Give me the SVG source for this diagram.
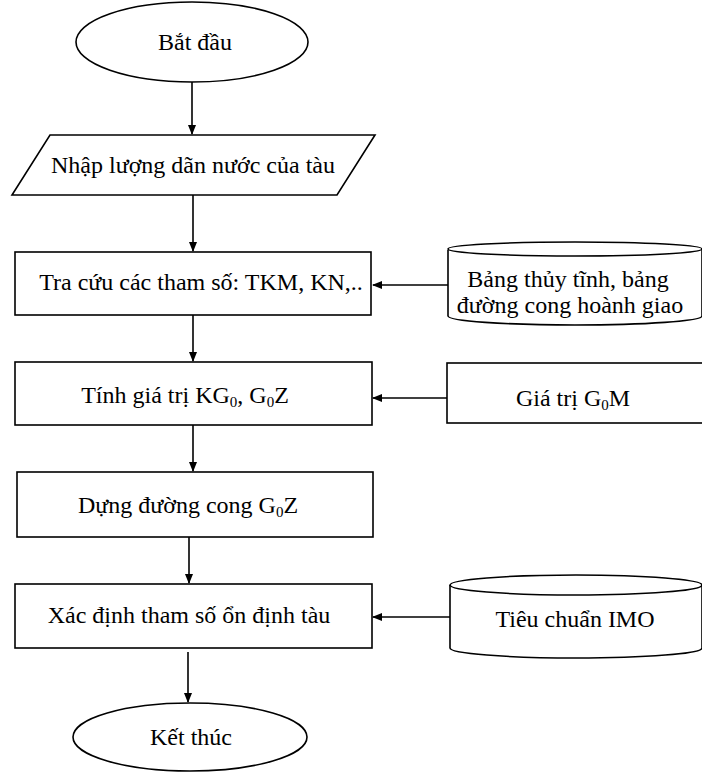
<svg xmlns="http://www.w3.org/2000/svg" width="702" height="773" viewBox="0 0 702 773">
<style>
.s{fill:#fff;stroke:#000;stroke-width:1.6}
.t{font-family:"Liberation Serif","Times New Roman",serif;font-size:24px;fill:#000;text-anchor:middle}
.sub{font-size:15px}
.c{fill:none;stroke:#000;stroke-width:1.6}
</style>
<defs>
<marker id="ah" markerWidth="10" markerHeight="10" refX="9" refY="5" orient="auto" markerUnits="userSpaceOnUse">
<path d="M0,1 L10,5 L0,9 Z" fill="#000"/>
</marker>
</defs>
<rect width="702" height="773" fill="#fff"/>
<g id="connectors">
<line class="c" x1="192" y1="82" x2="192" y2="134" marker-end="url(#ah)"/>
<line class="c" x1="193" y1="195" x2="193" y2="251" marker-end="url(#ah)"/>
<line class="c" x1="193" y1="315" x2="193" y2="361" marker-end="url(#ah)"/>
<line class="c" x1="193" y1="425" x2="193" y2="471" marker-end="url(#ah)"/>
<line class="c" x1="189" y1="537" x2="189" y2="583" marker-end="url(#ah)"/>
<line class="c" x1="188" y1="652" x2="188" y2="702" marker-end="url(#ah)"/>
<line class="c" x1="448" y1="285" x2="373" y2="285" marker-end="url(#ah)"/>
<line class="c" x1="447" y1="398" x2="373" y2="398" marker-end="url(#ah)"/>
<line class="c" x1="450" y1="617" x2="373" y2="617" marker-end="url(#ah)"/>
</g>
<g id="start">
<ellipse class="s" cx="192" cy="42" rx="116" ry="40"/>
<text class="t" x="195" y="50">Bắt đầu</text>
</g>
<g id="input">
<polygon class="s" points="50,135 375,135 337,195 12,195"/>
<text class="t" x="193" y="173">Nhập lượng dãn nước của tàu</text>
</g>
<g id="lookup">
<rect class="s" x="15" y="252" width="356" height="63"/>
<text class="t" x="201" y="290">Tra cứu các tham số: TKM, KN,..</text>
</g>
<g id="tables">
<path class="s" d="M448,250 L448,316 A127,9 0 0 0 702,316 L702,250"/>
<ellipse class="s" cx="575" cy="249" rx="127" ry="7"/>
<text class="t" x="568" y="287">Bảng thủy tĩnh, bảng</text>
<text class="t" x="570" y="313">đường cong hoành giao</text>
</g>
<g id="compute">
<rect class="s" x="15" y="362" width="357" height="63"/>
<text class="t" x="185" y="403">Tính giá trị KG<tspan class="sub" dy="4">0</tspan><tspan dy="-4">, G</tspan><tspan class="sub" dy="4">0</tspan><tspan dy="-4">Z</tspan></text>
</g>
<g id="gom">
<rect class="s" x="447" y="363" width="262" height="60"/>
<text class="t" x="573" y="406">Giá trị G<tspan class="sub" dy="4">0</tspan><tspan dy="-4">M</tspan></text>
</g>
<g id="curve">
<rect class="s" x="17" y="472" width="356" height="65"/>
<text class="t" x="188" y="513">Dựng đường cong G<tspan class="sub" dy="4">0</tspan><tspan dy="-4">Z</tspan></text>
</g>
<g id="determine">
<rect class="s" x="15" y="584" width="357" height="64"/>
<text class="t" x="189" y="623">Xác định tham số ổn định tàu</text>
</g>
<g id="imo">
<path class="s" d="M450,585 L450,648 A126,10 0 0 0 702,648 L702,585"/>
<ellipse class="s" cx="576" cy="585" rx="126" ry="10"/>
<text class="t" x="575" y="627">Tiêu chuẩn IMO</text>
</g>
<g id="end">
<ellipse class="s" cx="190" cy="737" rx="117" ry="34"/>
<text class="t" x="191" y="745">Kết thúc</text>
</g>
</svg>
